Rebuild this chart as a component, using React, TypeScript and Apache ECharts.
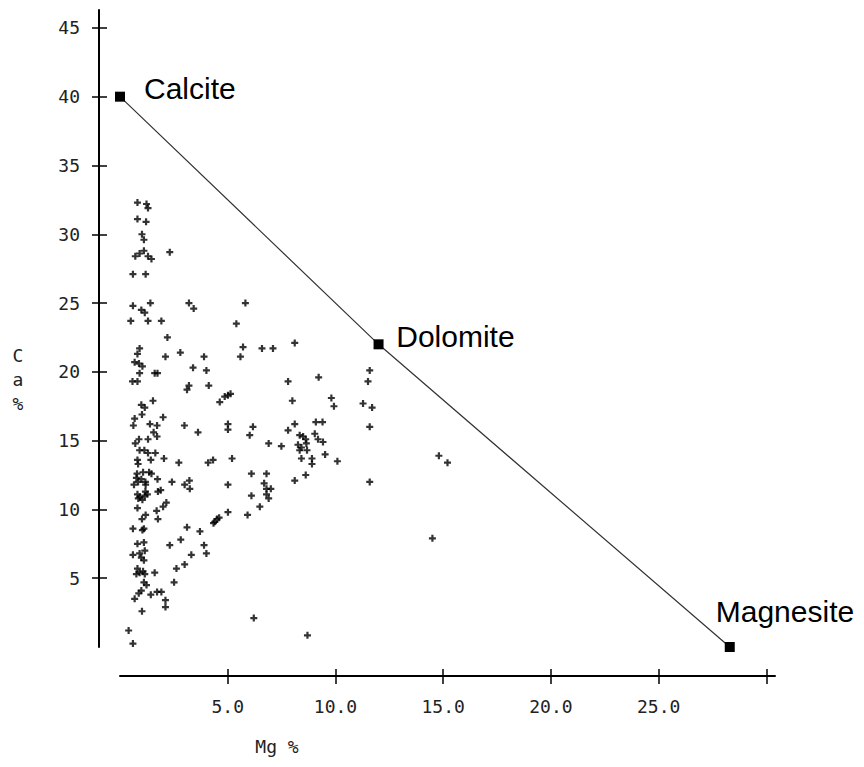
import React, { useEffect, useRef } from "react";
import * as echarts from "echarts";

// ---- axis ticks / labels ----
const xTickValues = [5, 10, 15, 20, 25, 30];
const xLabelValues = [5, 10, 15, 20, 25];
const yTickValues = [5, 10, 15, 20, 25, 30, 35, 40, 45];
const xAxisName = "Mg %";
const yAxisName = "C\na\n%";

// ---- end-member minerals ----
const mineralNames = ["Calcite", "Dolomite", "Magnesite"];
const mineralMg = [0, 12, 28.3];
const mineralCa = [40, 22, 0];
// label placement (style only)
const mineralLabelPos = [
  [29, -3.5],
  [22.7, -2.4],
  [-9, -31],
];

// ---- samples: [Mg %, Ca %] ----
const samples: [number, number][] = [
  [0.81, 32.3], [1.23, 32.2], [1.3, 31.9], [0.81, 31.1], [1.21, 30.9], [1.02, 30.0], [1.11, 29.6],
  [0.71, 28.4], [0.91, 28.6], [1.11, 28.8], [1.3, 28.4], [1.46, 28.2], [2.31, 28.7],
  [0.6, 27.1], [1.19, 27.1],
  [0.6, 24.8], [1.41, 25.0], [0.99, 24.5], [1.15, 24.3], [0.5, 23.7], [1.3, 23.7], [1.92, 23.7],
  [3.2, 25.0], [3.42, 24.6], [2.2, 22.5],
  [0.91, 21.7], [0.81, 21.3], [0.68, 20.7], [0.88, 20.6], [1.04, 20.4],
  [2.11, 21.1], [2.8, 21.4], [3.9, 21.1], [3.39, 20.3], [4.01, 20.1],
  [0.91, 19.9], [1.61, 19.9], [1.74, 19.9], [0.58, 19.3], [0.81, 19.3],
  [3.2, 19.0], [3.11, 18.7], [4.12, 19.0],
  [0.99, 17.6], [1.15, 17.4], [1.53, 17.9],
  [0.68, 16.6], [1.02, 16.9], [2.0, 16.7],
  [0.62, 16.1], [1.39, 16.2], [1.72, 16.1], [2.99, 16.1], [3.62, 15.6], [1.56, 15.6], [1.72, 15.3],
  [0.88, 15.1], [1.3, 15.1], [0.71, 14.8], [1.13, 14.3], [0.91, 14.3], [1.3, 14.1], [1.64, 14.1],
  [2.04, 13.7], [0.81, 13.6], [0.84, 13.3], [1.43, 13.6], [2.73, 13.4], [4.09, 13.4], [4.32, 13.6],
  [0.79, 12.6], [1.07, 12.7], [1.35, 12.7], [1.46, 12.6], [1.74, 12.2],
  [0.65, 11.8], [0.84, 12.0], [0.99, 12.2], [1.18, 12.0], [0.76, 12.3], [1.19, 11.8],
  [2.41, 12.0], [3.0, 11.8], [3.22, 12.1], [3.24, 11.5], [1.76, 11.3], [1.89, 11.4],
  [0.81, 11.1], [0.93, 10.9], [1.04, 10.7], [0.85, 10.8], [1.15, 11.0], [1.18, 11.3], [1.27, 11.1],
  [2.15, 10.5],
  [0.81, 10.1], [1.7, 9.9], [1.76, 9.3], [1.19, 9.6], [1.02, 9.3], [2.0, 10.2], [4.34, 9.0],
  [0.6, 8.6], [1.04, 8.5], [1.11, 8.6], [3.11, 8.7], [3.71, 8.4],
  [2.31, 7.4], [2.82, 7.8], [3.9, 7.4], [4.01, 6.8], [3.31, 6.7], [3.0, 6.0], [2.62, 5.7], [2.51, 4.7],
  [0.81, 7.5], [1.11, 7.6], [0.6, 6.7], [0.91, 6.8], [1.15, 7.0], [0.99, 6.5], [1.11, 6.3],
  [0.81, 5.7], [0.91, 5.4], [1.07, 5.5], [0.76, 5.3], [1.15, 5.3], [1.61, 5.4],
  [1.11, 4.7], [1.23, 4.5], [0.87, 3.9], [0.99, 4.1], [0.68, 3.5], [1.43, 3.8], [1.72, 4.0], [1.92, 4.0],
  [2.11, 3.4], [2.11, 2.9], [1.02, 2.6], [0.4, 1.2], [0.6, 0.25],
  [6.21, 2.1], [8.7, 0.85],
  [5.82, 25.0], [5.4, 23.5], [5.71, 21.8], [5.59, 21.1], [6.59, 21.7], [7.1, 21.7], [8.11, 22.1],
  [9.22, 19.6], [7.8, 19.3], [8.0, 17.9], [9.81, 18.1], [9.93, 17.5],
  [4.63, 17.8], [4.86, 18.2], [5.01, 18.3], [5.13, 18.4],
  [5.01, 16.2], [5.01, 15.8], [6.17, 16.0], [6.02, 15.4], [7.8, 15.75], [8.11, 16.2],
  [9.09, 16.35], [9.4, 16.35], [9.04, 15.5], [8.5, 15.3], [8.62, 15.1], [9.19, 15.1],
  [6.9, 14.8], [7.49, 14.6], [8.34, 15.4], [8.26, 14.7], [8.42, 14.5], [8.65, 14.8], [8.68, 14.3], [8.34, 14.3],
  [9.42, 14.9], [9.52, 14.0], [10.09, 13.5], [8.42, 13.7], [8.91, 13.7], [8.91, 13.3], [8.62, 12.5], [8.11, 12.1],
  [5.2, 13.7], [6.1, 12.6], [6.8, 12.6], [5.01, 11.8], [6.69, 11.9], [6.8, 11.5], [7.0, 11.5], [6.8, 11.1],
  [6.9, 10.8], [6.1, 11.0], [6.49, 10.2], [5.92, 9.6], [5.01, 9.8], [4.4, 9.1], [4.5, 9.3], [4.6, 9.4],
  [11.59, 20.1], [11.51, 19.3], [11.28, 17.7], [11.7, 17.4], [11.59, 16.0], [11.59, 12.0],
  [14.8, 13.9], [15.2, 13.4], [14.5, 7.9],
];

const monoFont = "'DejaVu Sans Mono', 'Liberation Mono', monospace";
const sansFont = "'Liberation Sans', Arial, Helvetica, sans-serif";
const plusPath = "path://M2.4,0H4.6V2.4H7V4.6H4.6V7H2.4V4.6H0V2.4H2.4Z";

export default function App() {
  const ref = useRef<HTMLDivElement>(null);

  useEffect(() => {
    if (!ref.current) return;
    const chart = echarts.init(ref.current, null, { renderer: "svg" });

    const xBase = {
      type: "value",
      min: 0,
      max: 30.4,
      interval: 5,
      position: "bottom",
      offset: 29,
      splitLine: { show: false },
    };
    const yBase = {
      type: "value",
      min: 0,
      max: 46.3,
      interval: 5,
      position: "left",
      offset: 21,
      splitLine: { show: false },
    };

    const option = {
      animation: false,
      backgroundColor: "#ffffff",
      grid: { left: 120, top: 10, width: 655, height: 637, containLabel: false },
      xAxis: [
        {
          ...xBase,
          axisLine: { show: true, onZero: false, lineStyle: { color: "#000", width: 2 } },
          axisTick: {
            show: true,
            inside: false,
            length: 8,
            customValues: xTickValues,
            lineStyle: { color: "#000", width: 1.5 },
          },
          axisLabel: {
            show: true,
            customValues: xLabelValues,
            formatter: (v: number) => v.toFixed(1),
            margin: 21,
            fontFamily: monoFont,
            fontSize: 18,
            color: "#222",
          },
        },
        {
          ...xBase,
          axisLine: { show: false, onZero: false },
          axisTick: {
            show: true,
            inside: true,
            length: 7,
            customValues: xTickValues,
            lineStyle: { color: "#000", width: 1.5 },
          },
          axisLabel: { show: false },
        },
      ],
      yAxis: [
        {
          ...yBase,
          axisLine: { show: true, onZero: false, lineStyle: { color: "#000", width: 2 } },
          axisTick: {
            show: true,
            inside: false,
            length: 7,
            customValues: yTickValues,
            lineStyle: { color: "#000", width: 1.5 },
          },
          axisLabel: {
            show: true,
            customValues: yTickValues,
            formatter: (v: number) => String(Math.round(v)),
            margin: 19,
            fontFamily: monoFont,
            fontSize: 18,
            color: "#222",
          },
        },
        {
          ...yBase,
          axisLine: { show: false, onZero: false },
          axisTick: {
            show: true,
            inside: true,
            length: 8,
            customValues: yTickValues,
            lineStyle: { color: "#000", width: 1.5 },
          },
          axisLabel: { show: false },
        },
      ],
      graphic: [
        {
          type: "text",
          style: {
            text: xAxisName,
            x: 277,
            y: 746,
            textAlign: "center",
            textVerticalAlign: "middle",
            font: `18px ${monoFont}`,
            fill: "#222",
          },
        },
        {
          type: "text",
          style: {
            text: yAxisName,
            x: 18,
            y: 379,
            textAlign: "center",
            textVerticalAlign: "middle",
            font: `18px ${monoFont}`,
            lineHeight: 24,
            fill: "#222",
          },
        },
      ],
      series: [
        {
          type: "scatter",
          xAxisIndex: 0,
          yAxisIndex: 0,
          symbol: plusPath,
          symbolSize: 7,
          itemStyle: { color: "#000" },
          data: samples,
          z: 2,
        },
        {
          type: "line",
          xAxisIndex: 0,
          yAxisIndex: 0,
          symbol: "rect",
          symbolSize: 10,
          showSymbol: true,
          lineStyle: { color: "#333", width: 1.2 },
          itemStyle: { color: "#000" },
          z: 3,
          data: mineralNames.map((name, i) => ({
            name,
            value: [mineralMg[i], mineralCa[i]],
            label: {
              show: true,
              formatter: "{b}",
              position: mineralLabelPos[i],
              align: "left",
              verticalAlign: "middle",
              fontFamily: sansFont,
              fontSize: 30,
              color: "#000",
            },
          })),
        },
      ],
    };

    chart.setOption(option as any);
    return () => chart.dispose();
  }, []);

  return (
    <div
      ref={ref}
      style={{ position: "absolute", left: 0, top: 0, width: 864, height: 767, background: "#fff" }}
    />
  );
}
